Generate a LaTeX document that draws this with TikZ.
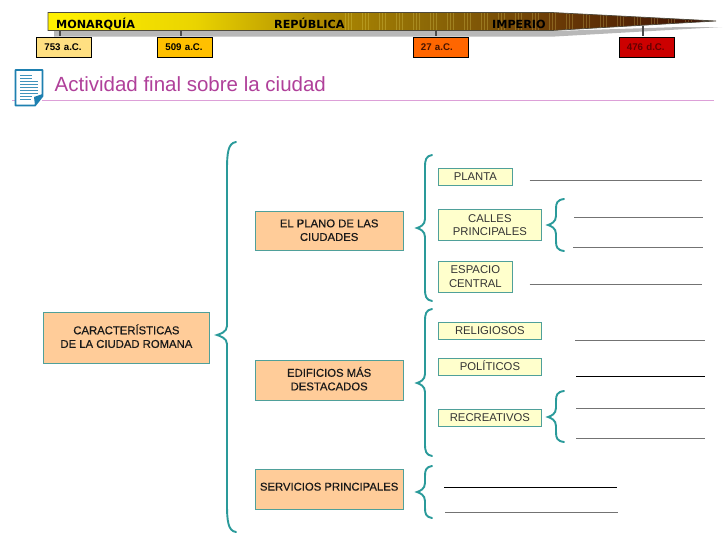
\documentclass[tikz,border=0pt]{standalone}
\usepackage{fontspec}
\setmainfont{Liberation Sans}
\newfontfamily\barfont{DejaVu Sans}
\newfontfamily\semibold[FakeBold=0.45]{Liberation Sans}
\definecolor{tlA}{HTML}{FFF000}
\definecolor{tlB}{HTML}{EAD400}
\definecolor{tlC}{HTML}{B08C00}
\definecolor{tlD}{HTML}{8E6A06}
\definecolor{tlE}{HTML}{6A3A06}
\definecolor{tlF}{HTML}{3A0E04}
\pgfdeclarehorizontalshading{timeline}{100bp}{
 color(0bp)=(tlA); color(26bp)=(tlA); color(36bp)=(tlB); color(45bp)=(tlC); color(53bp)=(tlD); color(63bp)=(tlE); color(75bp)=(tlF); color(100bp)=(tlF)}
\definecolor{teal1}{HTML}{2A9A9A}
\definecolor{boxline}{HTML}{4FA09A}
\definecolor{peach}{HTML}{FFCC99}
\definecolor{cream}{HTML}{FFFFCC}
\definecolor{titlepurple}{HTML}{B0409A}
\definecolor{rulepink}{HTML}{DDA0D8}
\definecolor{iconblue}{HTML}{1E80B0}
\tikzset{
 x=1pt,y=-1pt,
 datebox/.style={draw=black,line width=0.9pt,minimum width=55pt,minimum height=20pt,inner sep=0pt,text width=39pt,align=left,font=\bfseries\fontsize{9.7}{11}\selectfont},
 tick/.style={draw=black!70,line width=2.8pt},
 era/.style={font=\barfont\bfseries\fontsize{11.2}{12}\selectfont,anchor=base west,inner sep=0pt},
 mainbox/.style={draw=boxline,fill=peach,line width=1.3pt,align=center,inner sep=0pt,text=black!90,font=\semibold\fontsize{11.3}{13.6}\selectfont},
 subbox/.style={draw=boxline,fill=cream,line width=1.3pt,align=center,inner sep=0pt,text=black!80,font=\fontsize{11.3}{13.4}\selectfont},
 cbrace/.style={draw=teal1,line width=1.9pt,line cap=round},
 blank/.style={draw=black!55,line width=0.8pt},
 blankdark/.style={draw=black,line width=0.9pt},
}
\newcommand{\up}[1]{\rule[-#1pt]{0pt}{0pt}}
\newcommand{\cbr}[7]{% tipx spinex endx top tipy bottom curl
 \draw[cbrace] (#3,#4) .. controls (#2+1,#4+1) and (#2,#4+#7*0.4) .. (#2,#4+#7)
  -- (#2,#5-9) .. controls (#2,#5-3) and (#1+3,#5-1) .. (#1,#5)
  .. controls (#1+3,#5+1) and (#2,#5+3) .. (#2,#5+9)
  -- (#2,#6-#7) .. controls (#2,#6-#7*0.4) and (#2+1,#6-1) .. (#3,#6);}
\newcommand{\boxat}[7]{% style x1 y1 x2 y2 text name
 \node[#1,minimum width=#4pt-#2pt,minimum height=#5pt-#3pt,anchor=north west] (#7) at (#2,#3) {#6};}
\begin{document}
\begin{tikzpicture}
\useasboundingbox (0,0) rectangle (728,546);
\fill[white] (0,0) rectangle (728,546);
% timeline
\fill[black!28] (54,31) -- (54,36.5) -- (555,36.5) -- (722,27) -- (680,27) -- (555,31) -- cycle;
\draw[tick] (60,31) -- (60,36);
\draw[tick] (181,31) -- (181,36);
\draw[tick] (436,31) -- (436,36);
\draw[tick] (643,26) -- (643,36);
\path[shading=timeline] (48,12.5) -- (552,12.5) -- (716,21) -- (552,30.5) -- (48,30.5) -- cycle;
\begin{scope}
\clip (48,12.5) -- (552,12.5) -- (716,21) -- (552,30.5) -- (48,30.5) -- cycle;
\foreach \gx in {345,362,...,700}{
  \foreach \dx in {0,3,6}
    \draw[yellow!50!white,opacity=0.22,line width=0.5pt] (\gx+\dx,12) -- (\gx+\dx,31);
}
\end{scope}
\draw[black!80!yellow,line width=0.7pt] (48,12.5) -- (552,12.5) -- (716,21) -- (552,30.5) -- (48,30.5) -- cycle;
\node[era] (mon) at (56,28) {MONARQUÍA};
\node[era] (rep) at (274,28) {REPÚBLICA};
\node[era] (imp) at (492,28) {IMPERIO};
\node[datebox,fill={rgb,255:red,255;green,224;blue,130},anchor=north west] (d1) at (36,36.5) {753 a.C.};
\node[datebox,fill={rgb,255:red,255;green,192;blue,0},anchor=north west] (d2) at (157,36.5) {509 a.C.};
\node[datebox,fill={rgb,255:red,255;green,102;blue,0},text={rgb,255:red,70;green,20;blue,0},anchor=north west] (d3) at (412.5,36.5) {27 a.C.};
\node[datebox,fill={rgb,255:red,204;green,0;blue,0},text={rgb,255:red,100;green,0;blue,0},anchor=north west] (d4) at (618.5,36.5) {476 d.C.};
% title
\draw[rulepink,line width=0.7pt] (12,100) -- (714,100);
\node[anchor=base west,inner sep=0pt,text=titlepurple,font=\fontsize{20.5}{22}\selectfont] (title) at (54.5,91.5) {Actividad final sobre la ciudad};
% icon
\fill[white] (15.5,70) rectangle (42,106);
\draw[iconblue,line width=1.8pt,line join=round] (15.5,70) -- (42.5,70) -- (42.5,96) -- (35,105.5) -- (15.5,105.5) -- cycle;
\fill[iconblue] (42.5,94) -- (42.5,96) -- (35,105.5) -- (34,97) -- cycle;
\foreach \yy/\xe in {75/32,78/32,81/38,84/38,87/38,90/38,93/38,96/32,99/31}
  \draw[iconblue!85,line width=1pt] (20,\yy) -- (\xe,\yy);
% braces
\cbr{217}{227}{236}{142}{335}{532}{28}
\cbr{417}{425}{432}{155}{228}{301}{12}
\cbr{548}{556}{564}{199}{225}{251}{10}
\cbr{417}{425}{432}{309}{383}{456}{12}
\cbr{548}{556}{564}{391}{417}{442}{10}
\cbr{417}{425}{432}{466}{492}{518}{10}
% main boxes
\boxat{mainbox}{42.5}{312}{209}{363}{CARACTERÍSTICAS\\DE LA CIUDAD ROMANA\up{4}}{root}
\boxat{mainbox}{254.5}{211}{402.5}{250}{EL PLANO DE LAS\\CIUDADES\up{2}}{plano}
\boxat{mainbox}{254.5}{360}{402.5}{400}{EDIFICIOS MÁS\\DESTACADOS\up{4}}{edif}
\boxat{mainbox}{254.5}{469}{402.5}{509}{SERVICIOS PRINCIPALES\up{6}}{serv}
% sub boxes
\boxat{subbox}{437.5}{168}{512}{185}{PLANTA\up{2}}{planta}
\boxat{subbox}{437.5}{209}{541}{240}{CALLES\\PRINCIPALES}{calles}
\boxat{subbox}{437.5}{260.5}{512}{291.5}{ESPACIO\\CENTRAL}{espacio}
\boxat{subbox}{437.5}{322}{541}{339}{RELIGIOSOS\up{2}}{relig}
\boxat{subbox}{437.5}{357.5}{541}{374.5}{POLÍTICOS\up{2}}{polit}
\boxat{subbox}{437.5}{409}{541}{426}{RECREATIVOS\up{2}}{recre}
% blanks
\draw[blank] (529.5,180.5) -- (702,180.5);
\draw[blank] (574,217.5) -- (703,217.5);
\draw[blank] (573,247.5) -- (702.5,247.5);
\draw[blank] (529.5,284.5) -- (702,284.5);
\draw[blank] (575,340.5) -- (705,340.5);
\draw[blankdark] (576,376.5) -- (705,376.5);
\draw[blank] (576,408.5) -- (705,408.5);
\draw[blank] (576,438.5) -- (705,438.5);
\draw[blankdark] (444,487.5) -- (617,487.5);
\draw[blank] (445,512.5) -- (617.5,512.5);
\end{tikzpicture}
\end{document}
